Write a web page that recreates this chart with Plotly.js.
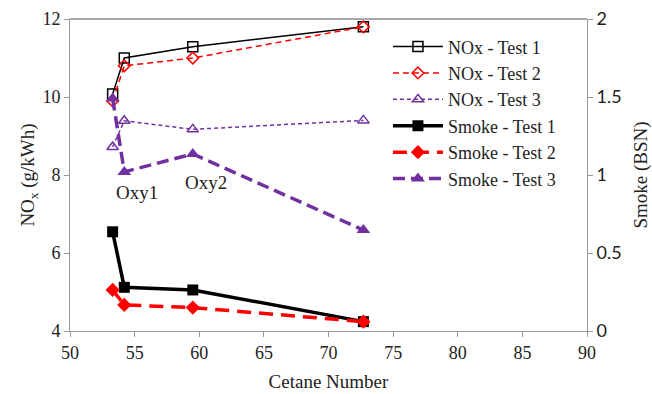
<!DOCTYPE html>
<html><head><meta charset="utf-8">
<script src="https://cdn.plot.ly/plotly-3.0.1.min.js"></script>
<style>html,body{margin:0;padding:0;background:#fff}#chart{width:652px;height:394px}</style>
</head><body><div id="chart"></div>
<script>
const cetane = [53.3, 54.2, 59.5, 72.7];
const noxTest1 = [10.08, 11.0, 11.29, 11.8];
const noxTest2 = [9.9, 10.8, 11.0, 11.8];
const noxTest3 = [8.72, 9.39, 9.17, 9.4];
const smokeTest1 = [0.636, 0.28, 0.263, 0.06];
const smokeTest2 = [0.263, 0.167, 0.15, 0.06];
const smokeTest3 = [1.49, 1.02, 1.135, 0.647];
const seriesNames = ["NOx - Test 1","NOx - Test 2","NOx - Test 3","Smoke - Test 1","Smoke - Test 2","Smoke - Test 3"];
const labels = ["Oxy1","Oxy2"];
const labelX = [55.2, 60.5];
const labelY = [7.55, 7.8];

const purple = "#7030A0";
const traces = [
  {x: cetane, y: noxTest1, name: seriesNames[0], mode: "lines+markers",
   line: {color: "#000", width: 1.5}, marker: {symbol: "square-open", size: 10, color: "#000", line:{width:1.5}}},
  {x: cetane, y: noxTest2, name: seriesNames[1], mode: "lines+markers",
   line: {color: "#ff0000", width: 1.5, dash: "6px,4px"}, marker: {symbol: "diamond-open", size: 9, color: "#ff0000", line:{width:1.5}}},
  {x: cetane, y: noxTest3, name: seriesNames[2], mode: "lines+markers",
   line: {color: purple, width: 1.5, dash: "4px,3px"}, marker: {symbol: "triangle-up-open", size: 10, color: purple, line:{width:1.5}}},
  {x: cetane, y: smokeTest1, name: seriesNames[3], mode: "lines+markers", yaxis: "y2",
   line: {color: "#000", width: 3.5}, marker: {symbol: "square", size: 11, color: "#000"}},
  {x: cetane, y: smokeTest2, name: seriesNames[4], mode: "lines+markers", yaxis: "y2",
   line: {color: "#ff0000", width: 3.5, dash: "14px,8px"}, marker: {symbol: "diamond", size: 11, color: "#ff0000"}},
  {x: cetane, y: smokeTest3, name: seriesNames[5], mode: "lines+markers", yaxis: "y2",
   line: {color: purple, width: 3.5, dash: "12px,6px"}, marker: {symbol: "triangle-up", size: 12, color: purple}}
];

const serif = "Liberation Serif, Times New Roman, serif";
const layout = {
  width: 652, height: 394,
  margin: {l: 70, r: 65, t: 19, b: 63},
  paper_bgcolor: "#fff", plot_bgcolor: "#fff",
  showlegend: true,
  legend: {x: 0.615, y: 0.97, xanchor: "left", yanchor: "top", bgcolor: "rgba(0,0,0,0)",
    font: {family: serif, size: 18, color: "#222"}, itemwidth: 50, tracegroupgap: 0},
  xaxis: {range: [50, 90], dtick: 5, tick0: 50, showgrid: false, zeroline: false,
    showline: true, linecolor: "#999", linewidth: 1, ticks: "outside", ticklen: 5, tickcolor: "#999",
    tickfont: {family: serif, size: 18, color: "#222"},
    title: {text: "Cetane Number", font: {family: serif, size: 19, color: "#222"}, standoff: 13}},
  yaxis: {range: [4, 12], dtick: 2, showgrid: false, zeroline: false,
    showline: true, linecolor: "#999", linewidth: 1, ticks: "outside", ticklen: 5, tickcolor: "#999",
    tickfont: {family: serif, size: 18, color: "#222"},
    title: {text: "NO<sub>x</sub> (g/kWh)", font: {family: serif, size: 19, color: "#222"}, standoff: 2}},
  yaxis2: {range: [0, 2], dtick: 0.5, overlaying: "y", side: "right", showgrid: false, zeroline: false,
    showline: true, linecolor: "#999", linewidth: 1, ticks: "outside", ticklen: 5, tickcolor: "#999",
    tickfont: {family: "Lato, Open Sans, sans-serif", size: 18, color: "#222"},
    title: {text: "Smoke (BSN)", font: {family: serif, size: 19, color: "#222"}, standoff: 13}},
  shapes: [{type: "line", xref: "paper", yref: "paper", x0: 0, x1: 1, y0: 1, y1: 1, line: {color: "#555", width: 1.2}}],
  annotations: labels.map((t, i) => ({x: labelX[i], y: labelY[i], xref: "x", yref: "y", text: t, showarrow: false,
    font: {family: serif, size: 19, color: "#222"}}))
};
Plotly.newPlot("chart", traces, layout, {displayModeBar: false, staticPlot: true});
</script>
</body></html>
